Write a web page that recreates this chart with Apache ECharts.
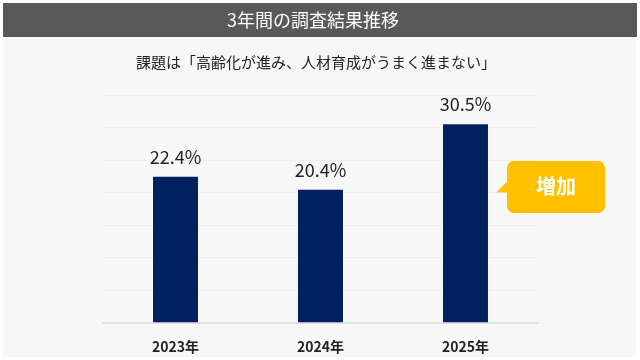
<!DOCTYPE html>
<html>
<head>
<meta charset="utf-8">
<style>html,body{margin:0;padding:0;background:#fff;}#c{width:640px;height:360px;}</style>
<script src="https://cdn.jsdelivr.net/npm/echarts@6/dist/echarts.min.js"></script>
</head>
<body>
<div id="c"></div>
<script>
const title = '3年間の調査結果推移';
const subtitle = '課題は「高齢化が進み、人材育成がうまく進まない」';
const categories = ['2023年', '2024年', '2025年'];
const values = [22.4, 20.4, 30.5];
const calloutText = '増加';

const FONT = '"Noto Sans CJK JP", "Noto Sans", sans-serif';
const chart = echarts.init(document.getElementById('c'), null, {renderer: 'canvas'});
chart.setOption({
  backgroundColor: '#ffffff',
  animation: false,
  graphic: [
    {type: 'rect', z: -10, shape: {x: 3, y: 3, width: 633, height: 354, r: 3}, style: {fill: '#f7f7f7', stroke: 'none'}},
    {type: 'rect', z: -9, shape: {x: 3, y: 3, width: 634, height: 34}, style: {fill: '#595959', stroke: 'none'}},
    {type: 'text', x: 313, y: 20, style: {text: title, fill: '#ffffff', font: '18px ' + FONT, align: 'center', verticalAlign: 'middle'}},
    {type: 'text', x: 316, y: 62, style: {text: subtitle, fill: '#222222', font: '15px ' + FONT, align: 'center', verticalAlign: 'middle'}},
    {type: 'rect', z: 10, shape: {x: 507, y: 161, width: 98, height: 52, r: 7}, style: {fill: '#ffc000', stroke: 'none', lineWidth: 0}},
    {type: 'polygon', z: 10, shape: {points: [[496, 192.5], [509, 180], [509, 192.5]]}, style: {fill: '#ffc000', stroke: 'none', lineWidth: 0}},
    {type: 'text', z: 11, x: 556, y: 186, style: {text: calloutText, fill: '#ffffff', font: 'bold 20px ' + FONT, align: 'center', verticalAlign: 'middle'}}
  ],
  grid: {left: 103, right: 102, top: 95, bottom: 37.7, containLabel: false},
  xAxis: {
    type: 'category',
    data: categories,
    axisLine: {lineStyle: {color: '#e2e2e2', width: 2}},
    axisTick: {show: false},
    axisLabel: {color: '#222222', fontSize: 14, fontWeight: 'bold', fontFamily: FONT, margin: 17}
  },
  yAxis: {
    type: 'value',
    min: 0, max: 35, interval: 5,
    axisLabel: {show: false},
    axisLine: {show: false},
    axisTick: {show: false},
    splitLine: {lineStyle: {color: '#efefef', width: 1}}
  },
  series: [{
    type: 'bar',
    data: values,
    barWidth: '31%',
    itemStyle: {color: '#002060'},
    label: {
      show: true, position: 'top', distance: 11,
      formatter: p => p.value.toFixed(1) + '%',
      color: '#222222', fontSize: 18, lineHeight: 18, fontFamily: FONT
    }
  }]
});
</script>
</body>
</html>
